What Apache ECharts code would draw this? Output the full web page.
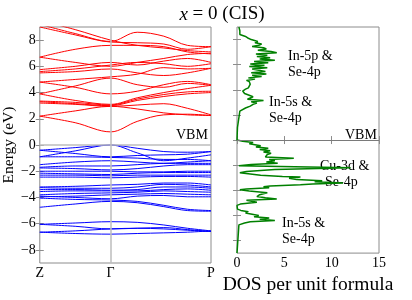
<!DOCTYPE html>
<html>
<head>
<meta charset="utf-8">
<script src="https://cdn.jsdelivr.net/npm/echarts@6/dist/echarts.min.js"></script>
<style>html,body{margin:0;padding:0;background:#fff}#c{width:412px;height:300px}</style>
</head>
<body>
<div id="c"></div>
<script>
// k-path: Z=0, Gamma=12, P=29 (path length units)
const kPoints = [0, 6, 12, 16.5, 21, 25, 29];
const kLabelPos = [0, 12, 29];
const kLabels = ['Z', 'Γ', 'P'];
const energyTicks = [-8, -6, -4, -2, 0, 2, 4, 6, 8];
const dosTicks = [0, 5, 10, 15];

const conductionBands = [
  [2.2, 1.7, 1.0, 1.8, 2.3, 2.35, 2.25],
  [2.2, 2.6, 2.95, 2.75, 2.45, 2.3, 2.25],
  [3.2, 3.1, 2.95, 3.05, 3.15, 2.8, 2.3],
  [3.3, 3.15, 3.0, 3.4, 3.7, 3.9, 4.0],
  [3.35, 3.25, 3.05, 3.5, 3.85, 4.05, 4.1],
  [3.9, 3.4, 3.1, 3.6, 4.0, 4.3, 4.55],
  [3.9, 4.5, 5.1, 4.6, 4.4, 4.7, 4.55],
  [4.8, 4.4, 3.9, 4.1, 4.6, 4.85, 4.6],
  [4.8, 5.0, 5.2, 5.4, 5.9, 5.8, 5.85],
  [5.5, 5.6, 5.8, 5.5, 5.3, 5.5, 5.85],
  [5.6, 5.8, 6.1, 6.3, 6.2, 6.0, 6.2],
  [5.75, 6.0, 6.3, 6.1, 6.4, 6.6, 6.3],
  [6.7, 7.3, 7.6, 7.6, 7.5, 7.1, 6.95],
  [6.7, 6.3, 6.0, 6.3, 6.6, 6.9, 7.0],
  [9.2, 8.5, 7.9, 8.6, 8.3, 7.6, 7.5],
  [9.0, 8.4, 7.85, 7.8, 7.7, 7.3, 7.5],
  [9.5, 8.8, 8.0, 7.6, 7.4, 7.2, 7.1]
];

const valenceBands = [
  [-0.4, -0.2, 0.0, -0.25, -0.5, -0.55, -0.5],
  [-0.9, -0.45, 0.0, -0.6, -1.2, -1.0, -0.75],
  [-0.4, -0.65, -0.9, -0.8, -0.75, -0.7, -0.5],
  [-0.9, -0.9, -0.95, -1.0, -1.1, -1.1, -1.2],
  [-1.5, -1.3, -1.2, -1.3, -1.4, -1.3, -1.2],
  [-1.7, -1.6, -1.6, -1.5, -1.4, -1.4, -1.4],
  [-1.75, -1.8, -1.9, -1.8, -1.6, -1.5, -1.5],
  [-2.0, -2.0, -2.0, -2.05, -2.05, -2.0, -2.0],
  [-2.15, -2.2, -2.25, -2.15, -2.1, -2.1, -2.1],
  [-2.3, -2.3, -2.35, -2.3, -2.3, -2.3, -2.3],
  [-2.45, -2.45, -2.5, -2.45, -2.4, -2.4, -2.45],
  [-3.2, -3.15, -3.05, -3.0, -2.9, -2.9, -3.05],
  [-3.25, -3.3, -3.3, -3.2, -3.0, -3.05, -3.2],
  [-3.4, -3.4, -3.45, -3.4, -3.2, -3.2, -3.3],
  [-3.55, -3.5, -3.5, -3.5, -3.4, -3.35, -3.45],
  [-3.8, -3.7, -3.65, -3.6, -3.5, -3.55, -3.6],
  [-3.95, -3.9, -3.8, -3.75, -3.7, -3.75, -3.8],
  [-3.9, -4.0, -4.1, -3.9, -3.85, -3.95, -3.95],
  [-4.75, -4.5, -4.3, -4.4, -4.7, -5.0, -5.05],
  [-4.05, -4.15, -4.2, -4.3, -4.6, -4.9, -5.0],
  [-6.05, -5.95, -5.85, -5.9, -6.1, -6.35, -6.55],
  [-6.05, -6.2, -6.4, -6.35, -6.3, -6.45, -6.6],
  [-6.65, -6.55, -6.4, -6.35, -6.4, -6.5, -6.6],
  [-6.65, -6.75, -6.8, -6.75, -6.7, -6.65, -6.55]
];

const dosEnergy = [
  9.0, 8.85, 8.7, 8.55, 8.4, 8.25, 8.1, 8.0, 7.85, 7.75, 7.65, 7.55, 7.45, 7.35, 7.25, 7.15, 7.05,
  6.95, 6.85, 6.75, 6.65, 6.55, 6.45, 6.35, 6.25, 6.15, 6.05, 5.95, 5.85, 5.75, 5.65, 5.55, 5.45,
  5.35, 5.25, 5.15, 5.05, 4.95, 4.85, 4.75, 4.65, 4.55, 4.45, 4.3, 4.15, 4.05, 3.9, 3.8, 3.7, 3.55,
  3.45, 3.35, 3.25, 3.15, 3.05, 2.95, 2.85, 2.7, 2.55, 2.4, 2.3, 2.2, 1.0, 0.95, 0.0,
  -0.1, -0.2, -0.3, -0.45, -0.55, -0.65, -0.75, -0.85, -0.95, -1.05, -1.15, -1.25, -1.35, -1.45,
  -1.55, -1.65, -1.75, -1.85, -1.95, -2.05, -2.2, -2.35, -2.5, -2.6, -2.7, -2.8, -2.9, -2.95, -3.05,
  -3.15, -3.25, -3.32, -3.42, -3.5, -3.56, -3.65, -3.72, -3.8, -3.9, -3.95, -4.05, -4.2, -4.35, -4.5,
  -4.6, -4.7, -4.8, -4.95, -5.1, -5.2, -5.5, -5.6, -5.7, -5.8, -5.9, -6.0, -6.1, -6.2, -6.3, -6.4,
  -6.5, -6.6, -6.75, -6.85, -9.0
];
const dosValue = [
  0.2, 0.0, 0.3, 0.5, 0.3, 0.9, 1.2, 1.5, 2.2, 1.9, 2.6, 2.3, 1.6, 2.8, 3.1, 2.2, 3.6,
  4.2, 2.0, 3.2, 2.1, 3.5, 2.4, 4.0, 1.8, 3.3, 1.4, 2.9, 1.3, 3.2, 1.6, 1.4, 3.0,
  1.5, 3.1, 1.6, 2.6, 1.2, 1.9, 1.0, 1.3, 1.1, 1.4, 1.5, 1.2, 0.9, 0.6, 0.5, 0.8, 0.9,
  1.7, 1.6, 1.1, 2.8, 1.5, 2.1, 1.7, 1.4, 0.9, 0.7, 0.3, 0.1, 0.05, 0.0, 0.0,
  0.6, 1.7, 1.3, 2.5, 2.0, 3.3, 2.4, 3.5, 2.8, 3.6, 3.2, 3.4, 3.0, 6.0,
  3.4, 4.0, 3.1, 4.3, 1.5, 0.2, 12.0, 4.0, 1.0, 0.3, 1.4, 2.5, 4.8, 6.7, 5.5,
  6.3, 9.0, 8.2, 11.2, 8.0, 6.7, 3.5, 2.8, 3.4, 1.0, 0.3, 1.3, 3.2, 2.4, 2.1,
  3.0, 4.2, 1.0, 2.1, 0.35, 0.0, 0.05, 0.4, 1.2, 0.9, 1.6, 2.3, 1.8, 3.4, 2.4, 4.0,
  1.4, 0.8, 0.2, 0.0, 0.0
];

const SERIF = '"Liberation Serif", "DejaVu Serif", serif';
const GRAY = '#8c8c8c';
const minus = v => String(v).replace('-', '\u2212');

const chart = echarts.init(document.getElementById('c'), null, {renderer: 'canvas'});

const tickStyle = {inside: true, length: 4, lineStyle: {color: GRAY, width: 1}};
const series = [];

conductionBands.forEach((b) => {
  series.push({
    type: 'line', xAxisIndex: 0, yAxisIndex: 0, smooth: 0.35, showSymbol: false, silent: true,
    lineStyle: {color: '#ff0000', width: 1}, data: b.map((e, j) => [kPoints[j], e]), z: 3
  });
});
valenceBands.forEach((b) => {
  series.push({
    type: 'line', xAxisIndex: 0, yAxisIndex: 0, smooth: 0.35, showSymbol: false, silent: true,
    lineStyle: {color: '#0000ff', width: 1}, data: b.map((e, j) => [kPoints[j], e]), z: 3
  });
});
// reference lines on band panel
series.push({
  type: 'line', xAxisIndex: 0, yAxisIndex: 0, data: [], silent: true, z: 1,
  markLine: {
    silent: true, symbol: 'none', label: {show: false}, animation: false,
    lineStyle: {color: '#bdbdbd', width: 1.5, type: 'solid'},
    data: [{xAxis: kLabelPos[1]}, {yAxis: 0}]
  }
});
// DOS
series.push({
  type: 'line', xAxisIndex: 2, yAxisIndex: 2, showSymbol: false, silent: true,
  lineStyle: {color: '#008000', width: 1.5},
  data: dosValue.map((d, i) => [d, dosEnergy[i]]), z: 3,
  markLine: {
    silent: true, symbol: 'none', label: {show: false}, animation: false,
    lineStyle: {color: '#7a7a7a', width: 1, type: 'solid'},
    data: [{yAxis: 0}]
  }
});

const txt = (t, x, y) => ({type: 'text', left: x, top: y, style: {text: t, font: '14px ' + SERIF, fill: '#000'}});

const option = {
  animation: false,
  backgroundColor: '#fff',
  title: {
    text: '{i|x} = 0 (CIS)', left: 217, top: 0, textAlign: 'center',
    textStyle: {
      fontFamily: SERIF, fontSize: 19, fontWeight: 'normal', color: '#000',
      rich: {i: {fontFamily: SERIF, fontSize: 19, fontStyle: 'italic', color: '#000'}}
    }
  },
  grid: [
    {left: 37, top: 27, width: 174, height: 236, show: true, borderColor: GRAY, borderWidth: 1, backgroundColor: 'transparent'},
    {left: 237, top: 27, width: 142, height: 236, show: true, borderColor: GRAY, borderWidth: 1, backgroundColor: 'transparent'}
  ],
  xAxis: [
    {gridIndex: 0, type: 'value', min: 0, max: 29, position: 'bottom',
      axisLine: {show: false}, splitLine: {show: false}, axisTick: {show: false},
      axisLabel: {customValues: kLabelPos, formatter: v => kLabels[kLabelPos.indexOf(v)],
        fontFamily: SERIF, fontSize: 14, color: '#000', margin: 3}},
    {gridIndex: 0, type: 'value', min: 0, max: 29, position: 'top', show: false},
    {gridIndex: 1, type: 'value', min: 0, max: 15, interval: 5, position: 'bottom',
      axisLine: {show: false}, splitLine: {show: false}, axisTick: tickStyle,
      axisLabel: {fontFamily: SERIF, fontSize: 14, color: '#000', margin: 3},
      name: 'DOS per unit formula', nameLocation: 'middle', nameGap: 17,
      nameTextStyle: {fontFamily: SERIF, fontSize: 19.5, color: '#000', verticalAlign: 'top'}},
    {gridIndex: 1, type: 'value', min: 0, max: 15, interval: 5, position: 'top',
      axisLine: {show: false}, splitLine: {show: false}, axisTick: tickStyle, axisLabel: {show: false}}
  ],
  yAxis: [
    {gridIndex: 0, type: 'value', min: -9, max: 9, position: 'left',
      axisLine: {show: false}, splitLine: {show: false},
      axisTick: Object.assign({customValues: energyTicks}, tickStyle),
      axisLabel: {customValues: energyTicks, formatter: minus, fontFamily: SERIF, fontSize: 14, color: '#000', margin: 4},
      name: 'Energy (eV)', nameLocation: 'middle', nameGap: 20,
      nameTextStyle: {fontFamily: SERIF, fontSize: 15.5, color: '#000'}},
    {gridIndex: 0, type: 'value', min: -9, max: 9, position: 'right',
      axisLine: {show: false}, splitLine: {show: false},
      axisTick: Object.assign({customValues: energyTicks}, tickStyle), axisLabel: {show: false}},
    {gridIndex: 1, type: 'value', min: -9, max: 9, position: 'left',
      axisLine: {show: false}, splitLine: {show: false},
      axisTick: Object.assign({customValues: energyTicks}, tickStyle), axisLabel: {show: false}},
    {gridIndex: 1, type: 'value', min: -9, max: 9, position: 'right',
      axisLine: {show: false}, splitLine: {show: false},
      axisTick: Object.assign({customValues: energyTicks}, tickStyle), axisLabel: {show: false}}
  ],
  graphic: [
    txt('VBM', 176, 128),
    txt('VBM', 345, 128),
    txt('In-5p &', 288, 49),
    txt('Se-4p', 288, 65),
    txt('In-5s &', 269, 95),
    txt('Se-4p', 269, 111),
    txt('Cu-3d &', 320, 159),
    txt('Se-4p', 325, 175),
    txt('In-5s &', 282, 216),
    txt('Se-4p', 282, 232)
  ],
  series: series
};
chart.setOption(option);
</script>
</body>
</html>
